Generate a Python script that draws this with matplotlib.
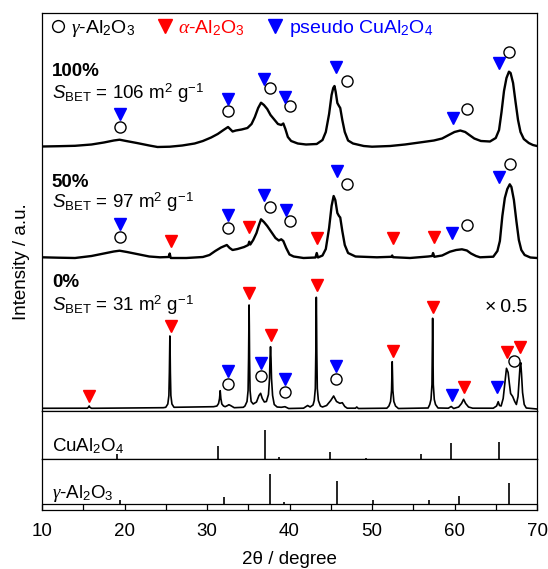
import matplotlib
matplotlib.use("Agg")
import matplotlib.pyplot as plt
from matplotlib.ticker import MultipleLocator

plt.rcParams['font.family'] = ['Liberation Sans', 'DejaVu Sans']
plt.rcParams['mathtext.fontset'] = 'custom'
plt.rcParams['mathtext.rm'] = 'Liberation Sans'
plt.rcParams['mathtext.it'] = 'Liberation Serif:italic'
plt.rcParams['mathtext.sf'] = 'Liberation Sans:italic'
plt.rcParams['mathtext.bf'] = 'Liberation Sans:bold'

# ---------------- data ----------------
tt_100 = [10.0, 12, 14, 16, 17.5, 18.7, 19.4, 20.2, 21.5, 23, 24, 25.5, 27, 28.5, 29.5, 30.5, 31.3, 32.0,
          32.55, 32.8, 33.1, 33.5, 34.2, 34.9, 35.4, 35.8, 36.2, 36.55, 36.9, 37.3, 37.7, 38.1, 38.6, 39.0,
          39.25, 39.5, 39.8, 40.2, 41, 42, 43.3, 44.0, 44.4, 44.8, 45.1, 45.3, 45.45, 45.6, 45.8, 46.0,
          46.15, 46.4, 46.7, 47.1, 47.7, 49, 50, 52.2, 54, 56.2, 57.5, 58.5, 59.3, 60.0, 60.7, 61.3, 61.8,
          62.4, 63.2, 64.3, 65.0, 65.4, 65.7, 66.0, 66.3, 66.6, 66.8, 67.1, 67.4, 67.7, 68.0, 68.4, 69.0,
          69.5, 70]
int_100 = [0.5, 0.8, 1.2, 2.5, 4.5, 6.5, 7.3, 6, 4, 1.5, 0, 0.3, 1.5, 3.5, 6, 9.5, 13, 17,
           20, 18, 15.5, 16.5, 17.5, 19, 23, 30, 39, 44.3, 42, 38, 32, 28, 23, 22,
           23.5, 18, 10, 6, 3.5, 2.5, 3, 7, 15, 33, 52, 59, 61, 55, 44, 41,
           39, 27, 15, 6.5, 3.5, 1, 0.3, 1, 2.5, 5, 6.5, 8.5, 12, 15, 16.5, 15, 12,
           8.5, 6, 5.5, 9, 17, 35, 56, 69, 75.3, 74, 64, 45, 27, 15, 8, 4,
           2, 1]

tt_50 = [10, 12, 14, 16, 17.5, 18.7, 19.4, 20.3, 21.5, 23, 24.3, 25.35, 25.48, 25.6, 27.5, 29.5, 30.3,
         31.0, 31.7, 32.4, 32.75, 33.1, 33.7, 34.5, 35.0, 35.12, 35.25, 35.6, 36.0, 36.3, 36.55, 36.9,
         37.3, 37.8, 38.3, 38.7, 39.0, 39.25, 39.6, 40.0, 40.5, 41.7, 43.15, 43.3, 43.45, 44.0, 44.4,
         44.8, 45.1, 45.35, 45.55, 45.8, 46.0, 46.15, 46.4, 46.7, 47.1, 48, 50.6, 52.35, 52.45, 52.55,
         54.6, 56.8, 57.3, 57.4, 57.55, 58.5, 59.45, 60.2, 60.9, 61.5, 62.0, 62.6, 63.1, 64.7, 65.2,
         65.5, 65.8, 66.1, 66.4, 66.7, 66.9, 67.2, 67.5, 67.8, 68.1, 68.5, 69.2, 70]
int_50 = [0.7, 0.3, 0, 2, 4.5, 6.5, 7.3, 6, 4, 1.5, 0.7, 1, 4.5, 0, 0, 1, 3,
          7, 10.5, 13, 10, 8, 9, 11, 13, 16.3, 13.5, 18, 25, 33, 38.7, 36,
          32, 26, 20, 17.5, 18.7, 17, 10, 3.5, 1.5, 0, 0.5, 5, 0.5, 2.5, 9,
          30, 52, 62, 58, 45, 42, 40.5, 27, 13, 5, 1.5, 0.7, 1.2, 2.5, 0.8,
          0, 1.5, 2, 5, 1.2, 2.5, 6.3, 8, 8.7, 7.5, 4.5, 2, 0.7, 1.3, 7,
          17, 42, 60, 69, 73.7, 71, 58, 37, 18, 8, 3, 0.5, 0]

tt_0 = [10.0, 15.5, 15.65, 15.72, 15.8, 16.0, 24.7, 25.0, 25.25, 25.38, 25.44, 25.47, 25.5, 25.53, 25.56,
        25.62, 25.75, 26.0, 30.8, 31.2, 31.4, 31.52, 31.6, 31.68, 31.8, 32.0, 32.2, 32.5, 32.65, 32.85,
        33.3, 34.4, 34.6, 34.85, 34.98, 35.04, 35.07, 35.1, 35.13, 35.16, 35.22, 35.35, 35.6, 36.0, 36.3,
        36.5, 36.7, 36.95, 37.2, 37.45, 37.58, 37.64, 37.7, 37.76, 37.82, 37.95, 38.15, 38.5, 39.0, 39.45,
        39.9, 41.7, 42.2, 42.5, 42.85, 43.0, 43.13, 43.19, 43.22, 43.25, 43.28, 43.31, 43.37, 43.5, 43.75,
        44.0, 44.5, 45.0, 45.35, 45.7, 46.1, 46.4, 46.7, 47.0, 48.0, 48.15, 48.35, 51.8, 52.05, 52.25,
        52.37, 52.42, 52.45, 52.48, 52.53, 52.65, 52.85, 53.2, 56.8, 57.0, 57.15, 57.27, 57.32, 57.35,
        57.38, 57.43, 57.55, 57.7, 58.0, 59.25, 59.6, 59.9, 60.5, 60.85, 61.1, 61.35, 61.7, 62.2, 64.7,
        65.1, 65.3, 65.45, 65.65, 65.9, 66.1, 66.3, 66.5, 66.65, 66.8, 67.05, 67.3, 67.5, 67.7, 67.85,
        67.95, 68.03, 68.12, 68.25, 68.45, 68.7, 70.0]
int_0 = [0.2, 0.3, 1.5, 2.5, 1.2, 0.2, 0.8, 1.2, 4.5, 13, 36, 58, 72.5, 58, 36,
         13, 4.5, 1.2, 1.8, 2.5, 5, 10, 17.8, 10, 4.5, 2.5, 1.8, 3, 3.8, 3,
         0.8, 1.2, 2.5, 7, 18, 50, 82, 103.5, 82, 50, 18, 7, 4.5, 6.5, 13,
         15.2, 10, 6.5, 7, 14, 30, 50, 61.8, 50, 30, 13, 4, 1.5, 1.2, 1.8,
         0, 0.3, 3, 1.5, 3.5, 8, 20, 56, 90, 111.2, 90, 56, 20, 8, 2.5,
         1.5, 3, 8, 12.5, 7, 5.2, 5.8, 2, 0.3, 0.3, 1.5, 0, 0.3, 2.5, 7,
         18, 34, 46.8, 34, 18, 7, 2.5, 0, 0.5, 4, 9, 24, 64, 90.2,
         64, 24, 9, 4, 0.5, 0.3, 2, 0, 1.5, 5, 9.2, 5, 1.5, 0.3, 0.3,
         2.5, 6.8, 3, 2.5, 10, 25, 40.2, 36, 25, 15, 12, 7, 4, 12, 30,
         43, 45.8, 35, 16, 4, 0.5, -0.5]

patterns = ['100%', '50%', '0%']
sbet = [106, 97, 31]
offsets = [264, 153, 2.5]

# reflection markers (2theta, height above each pattern's baseline)
gam_tt = [[19.4, 32.6, 37.6, 40.1, 47.0, 61.5, 66.6],
          [19.45, 32.6, 37.6, 40.1, 47.0, 61.5, 66.7],
          [32.6, 36.5, 39.45, 45.6, 67.2]]
gam_h = [[20.3, 36.3, 58.7, 41, 66.3, 37.7, 94.7],
         [21.3, 30, 50.7, 37.3, 73.7, 33, 93.7],
         [24.2, 32.5, 16.2, 29.2, 47.8]]
alp_tt = [[],
          [25.6, 35.1, 43.3, 52.6, 57.5],
          [15.7, 25.6, 35.1, 37.75, 43.3, 52.5, 57.45, 61.15, 66.4, 67.95]]
alp_h = [[],
         [17, 30.7, 19.7, 19.7, 20.7],
         [12.5, 82.5, 115.8, 73.5, 123.5, 57.5, 101.2, 21.8, 56.8, 61.8]]
cua_tt = [[19.4, 32.6, 36.9, 39.45, 45.6, 59.85, 65.4],
          [19.45, 32.6, 36.9, 39.6, 45.7, 59.75, 65.4],
          [32.6, 36.5, 39.45, 45.6, 59.75, 65.1]]
cua_h = [[33, 48, 67.7, 50.3, 79.7, 28.7, 83.7],
         [34, 43, 63, 48, 87.3, 24.7, 81.3],
         [37.8, 45.8, 29.2, 42.5, 13.5, 21.8]]

# reference patterns
cu_ref_tt = [19.05, 31.37, 37.06, 38.7, 44.96, 49.25, 55.88, 59.53, 65.4]
cu_ref_int = [4.9, 13, 29.4, 2.5, 6.7, 1.2, 5.3, 15.8, 16.8]
ga_ref_tt = [19.43, 32.0, 37.6, 39.3, 45.76, 50.1, 56.9, 60.6, 66.6]
ga_ref_int = [4, 7, 30.5, 2.5, 23.5, 4.5, 4, 7.7, 20.7]

# ---------------- figure ----------------
fig = plt.figure(figsize=(5.48, 5.69), dpi=100)
L, W = 42 / 548, 495 / 548
ax = fig.add_axes([L, 1 - 411 / 569, W, 398 / 569])
axc = fig.add_axes([L, 1 - 459 / 569, W, 48 / 569])
axg = fig.add_axes([L, 1 - 510 / 569, W, 51 / 569])

for a in (ax, axc, axg):
    a.set_xlim(10, 70)
    for s in a.spines.values():
        s.set_linewidth(0.9)

ax.set_ylim(0, 398)
axc.set_ylim(0, 48)
axg.set_ylim(-6, 45)
ax.tick_params(left=False, bottom=False, labelleft=False, labelbottom=False)
axc.tick_params(left=False, bottom=False, labelleft=False, labelbottom=False)
axg.tick_params(left=False, labelleft=False)
axg.xaxis.set_major_locator(MultipleLocator(10))
axg.xaxis.set_minor_locator(MultipleLocator(5))
axg.tick_params(axis='x', which='both', direction='in', length=4.3, width=0.9, labelsize=13.5, pad=9)

curves = [(tt_100, int_100, 1.7), (tt_50, int_50, 1.7), (tt_0, int_0, 1.2)]
for (tt, it, lw), off in zip(curves, offsets):
    ax.plot(tt, [v + off for v in it], color='black', lw=lw)

for i, off in enumerate(offsets):
    ax.plot(gam_tt[i], [v + off for v in gam_h[i]], 'o', ls='none', mfc='none', mec='black', ms=8, mew=1)
    ax.plot(alp_tt[i], [v + off for v in alp_h[i]], 'v', ls='none', color='red', ms=9)
    ax.plot(cua_tt[i], [v + off for v in cua_h[i]], 'v', ls='none', color='blue', ms=9)

# labels for each pattern
lab_y = [(335, 311.7), (224.3, 202.7), (124, 100)]
for p, s, (y1, y2) in zip(patterns, sbet, lab_y):
    ax.text(11.2, y1, p, fontsize=13.5, fontweight='bold')
    ax.text(11.2, y2, r'$\mathsf{S}_{\mathrm{BET}}$ = %d m$^2$ g$^{-1}$' % s, fontsize=13.5)
ax.text(68.8, 99.3, '×\u20090.5', fontsize=14, ha='right', family=['Liberation Sans', 'DejaVu Sans'])

# legend
ax.plot([11.94], [385], 'o', mfc='none', mec='black', ms=8.5, mew=1)
ax.text(13.5, 377.7, r'$\gamma$-Al$_2$O$_3$', fontsize=14)
ax.plot([24.9], [385], 'v', color='red', ms=9.5)
ax.text(26.5, 377.7, r'$\alpha$-Al$_2$O$_3$', fontsize=14, color='red')
ax.plot([38.2], [385], 'v', color='blue', ms=9.5)
ax.text(39.9, 377.7, r'pseudo CuAl$_2$O$_4$', fontsize=14, color='blue')

# reference sticks
axc.vlines(cu_ref_tt, 0, cu_ref_int, color='black', lw=1.2)
axc.text(11.2, 8, r'CuAl$_2$O$_4$', fontsize=13.5)
axg.vlines(ga_ref_tt, 0, ga_ref_int, color='black', lw=1.2)
axg.axhline(0, color='black', lw=0.9)
axg.text(11.2, 6, r'$\gamma$-Al$_2$O$_3$', fontsize=13.5)

axg.set_xlabel('2θ / degree', fontsize=13.5, labelpad=8)
fig.text(22 / 548, 1 - 262 / 569, 'Intensity / a.u.', rotation=90, va='center', ha='center', fontsize=13.5)

fig.savefig('out.png', dpi=100)
